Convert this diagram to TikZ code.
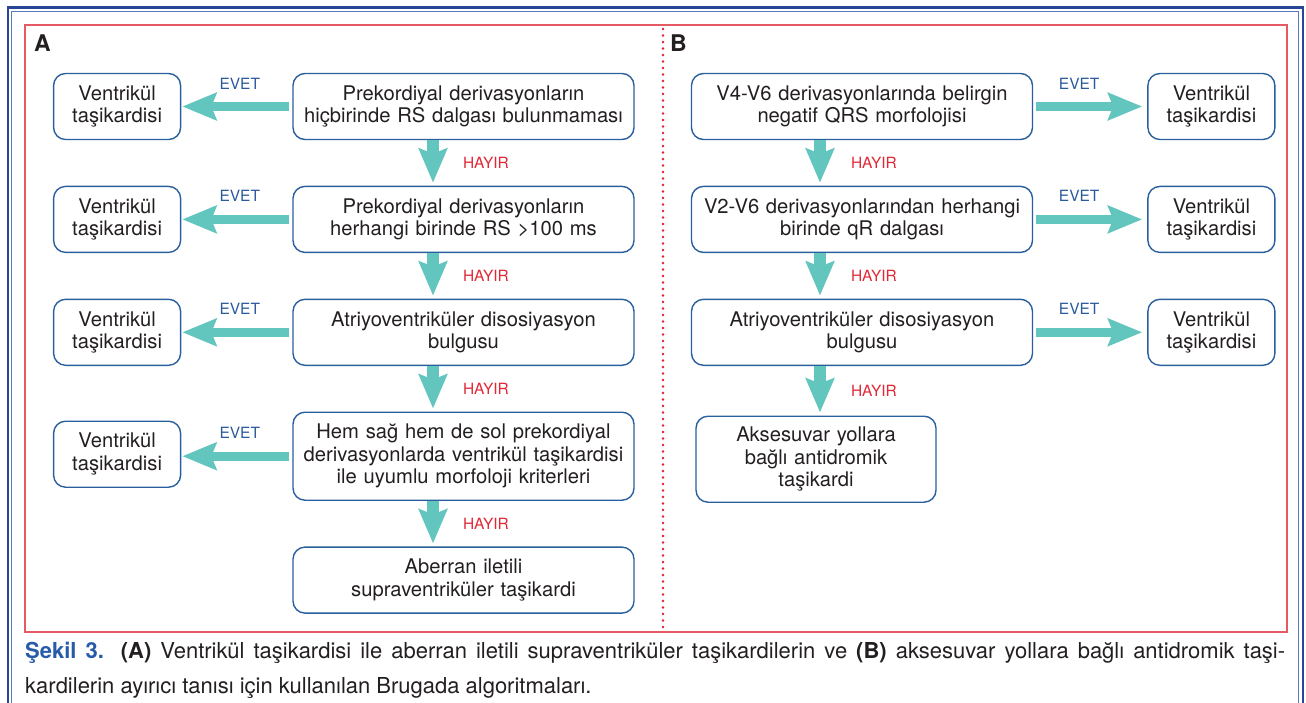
\documentclass[tikz,border=0pt]{standalone}
\usepackage{fontspec}
\setmainfont{TeX Gyre Heros}
\usetikzlibrary{arrows.meta,positioning}

\definecolor{boxblue}{HTML}{2A5F9E}
\definecolor{arrowteal}{HTML}{62C6BE}
\definecolor{evetblue}{HTML}{2A5A9B}
\definecolor{hayirred}{HTML}{E12837}
\definecolor{framered}{HTML}{E65A64}
\definecolor{divred}{HTML}{E11E2D}
\definecolor{frameblue}{HTML}{284696}
\definecolor{frameblueb}{HTML}{5A78BE}
\definecolor{txtgray}{HTML}{231F20}
\definecolor{capblue}{HTML}{285AAA}

\newcommand\bxfont{\fontsize{20.2}{22.5}\selectfont}
\newcommand\lblfont{\fontsize{15.5}{17}\selectfont}

\begin{document}
\begin{tikzpicture}[
    x=1pt, y=-1pt,
    node distance=0mm,
    qbox/.style={draw=boxblue, line width=1.4pt, rounded corners=12pt, text=txtgray, align=center, text width=336pt, minimum width=341pt, minimum height=66pt, inner sep=0pt, font=\bxfont},
    vtbox/.style={qbox, text width=122pt, minimum width=127pt},
    evetarrow/.style={draw=arrowteal, line width=9pt, -{Stealth[length=34pt, width=27pt, inset=5pt]}},
    hayirarrow/.style={draw=arrowteal, line width=12pt, -{Stealth[length=34pt, width=28pt, inset=5pt]}},
    evet/.style={font=\lblfont, text=evetblue, inner sep=0pt},
    hayir/.style={font=\lblfont, text=hayirred, inner sep=0pt, anchor=west}
]
\useasboundingbox (0,0) rectangle (1306,702);

% frames
\draw[frameblue, line width=2.6pt] (8,710) -- (8,7.5) -- (1303,7.5) -- (1303,710);
\draw[frameblueb, line width=1pt] (11.5,710) -- (11.5,11) -- (1298.5,11) -- (1298.5,710);
\draw[framered, line width=1.2pt] (25,25) rectangle (1287,632);
\draw[divred, line width=2.7pt, line cap=round, dash pattern=on 0pt off 6.5pt] (663,29) -- (663,630);

\node[font=\bfseries\fontsize{23}{23}\selectfont, text=txtgray, anchor=west, inner sep=0pt] (labA) at (34,43) {A};
\node[font=\bfseries\fontsize{23}{23}\selectfont, text=txtgray, anchor=west, inner sep=0pt] (labB) at (670,43) {B};

% panel A
\node[qbox] (A1) at (463.5,106.5) {Prekordiyal derivasyonların\\hiçbirinde RS dalgası bulunmaması};
\node[qbox, below=45.5pt of A1] (A2) {Prekordiyal derivasyonların\\herhangi birinde RS >100 ms};
\node[qbox, below=45.5pt of A2] (A3) {Atriyoventriküler disosiyasyon\\bulgusu};
\node[qbox, below=45.5pt of A3, minimum height=88pt] (A4) {Hem sağ hem de sol prekordiyal\\derivasyonlarda ventrikül taşikardisi\\ile uyumlu morfoloji kriterleri};
\node[qbox, below=45.5pt of A4] (A5) {Aberran iletili\\supraventriküler taşikardi};

\foreach \i in {1,...,3}
  \node[vtbox, left=111pt of A\i] (L\i) {Ventrikül\\taşikardisi};
\node[vtbox, left=111pt of A4, yshift=2pt] (L4) {Ventrikül\\taşikardisi};

% panel B
\node[qbox] (B1) at (862,106.5) {V4-V6 derivasyonlarında belirgin\\negatif QRS morfolojisi};
\node[qbox, below=45.5pt of B1] (B2) {V2-V6 derivasyonlarından herhangi\\birinde qR dalgası};
\node[qbox, below=45.5pt of B2] (B3) {Atriyoventriküler disosiyasyon\\bulgusu};
\node[qbox, below=49.5pt of B3, xshift=-46pt, text width=220pt, minimum width=240pt, minimum height=86pt] (B4) {Aksesuvar yollara\\bağlı antidromik\\taşikardi};

\foreach \i in {1,...,3}
  \node[vtbox, right=114pt of B\i] (R\i) {Ventrikül\\taşikardisi};

% arrows
\foreach \i/\j in {A1/A2, A2/A3, A3/A4, A4/A5}
  \draw[hayirarrow, shorten >=3pt] ([xshift=-30.5pt]\i.south) -- ([xshift=-30.5pt]\i.south |- \j.north)
    node[hayir, midway, xshift=24pt] (h\i) {HAYIR};
\foreach \i/\j in {B1/B2, B2/B3, B3/B4}
  \draw[hayirarrow, shorten >=3pt] ([xshift=-42pt]\i.south) -- ([xshift=-42pt]\i.south |- \j.north)
    node[hayir, midway, xshift=25pt] (h\i) {HAYIR};

\foreach \i in {1,...,4}
  \draw[evetarrow, shorten <=3pt, shorten >=1pt] (A\i.west) -- (A\i.west -| L\i.east)
    node[evet, midway, above=13pt, xshift=3pt] (eA\i) {EVET};
\foreach \i in {1,...,3}
  \draw[evetarrow, shorten <=3pt, shorten >=5pt] (B\i.east) -- (B\i.east -| R\i.west)
    node[evet, midway, above=13pt, xshift=-11pt] (eB\i) {EVET};

% caption
\node[anchor=north west, text width=1260pt, align=justify, inner sep=0pt, text=txtgray, font=\fontsize{22}{35}\selectfont] (cap) at (25,642)
  {\textcolor{capblue}{\textbf{Şekil 3.}} \textbf{(A)} Ventrikül taşikardisi ile aberran iletili supraventriküler taşikardilerin ve \textbf{(B)} aksesuvar yollara bağlı antidromik taşi-\linebreak kardilerin ayırıcı tanısı için kullanılan Brugada algoritmaları.};
\end{tikzpicture}
\end{document}
